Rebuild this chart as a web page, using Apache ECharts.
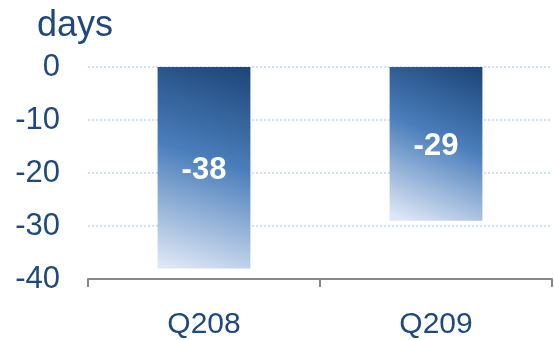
<!DOCTYPE html>
<html><head><meta charset="utf-8">
<script src="https://cdn.jsdelivr.net/npm/echarts@6/dist/echarts.min.js"></script>
<style>html,body{margin:0;padding:0;background:#fff}#c{width:554px;height:340px}</style>
</head><body><div id="c"></div>
<script>
const categories = ["Q208", "Q209"];
const values = [-38, -29];
const yTicks = { min: -40, max: 0, interval: 10 };
const unitLabel = "days";

const chart = echarts.init(document.getElementById('c'), null, { renderer: 'canvas' });
const txt = '#1F497D';
const ff = '"Liberation Sans", Arial, sans-serif';
const grad = new echarts.graphic.LinearGradient(0.85, 0, 0.15, 1, [
  { offset: 0, color: '#1F477A' },
  { offset: 0.45, color: '#4A7EBB' },
  { offset: 1, color: '#DEE7F5' }
]);
chart.setOption({
  animation: false,
  grid: { left: 88, right: 2, top: 67, bottom: 60 },
  graphic: [{ type: 'text', left: 37, top: 8, style: { text: unitLabel, fill: txt, font: '36px ' + ff } }],
  xAxis: {
    type: 'category', data: categories,
    axisLine: { onZero: false, lineStyle: { color: '#888', width: 2 } },
    axisTick: { show: true, length: 8, lineStyle: { color: '#888', width: 2 } },
    axisLabel: { color: txt, fontSize: 30, fontFamily: ff, margin: 31 }
  },
  yAxis: {
    type: 'value', min: yTicks.min, max: yTicks.max, interval: yTicks.interval,
    axisLine: { show: false }, axisTick: { show: false },
    axisLabel: { color: txt, fontSize: 31, fontFamily: ff, margin: 28 },
    splitLine: { lineStyle: { color: '#D3E0F3', type: 'dotted', width: 2 } }
  },
  series: [{
    type: 'bar', data: values, barWidth: '40%',
    itemStyle: { color: grad },
    label: { show: true, position: 'inside', offset: [0, 3], color: '#fff', fontWeight: 'bold', fontSize: 31, fontFamily: ff }
  }]
});
</script></body></html>
